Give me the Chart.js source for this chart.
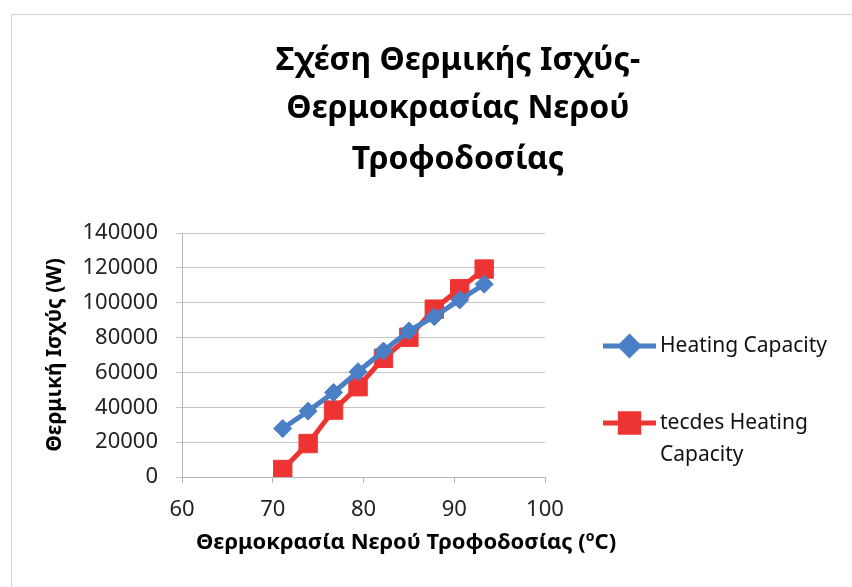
<!DOCTYPE html>
<html>
<head>
<meta charset="utf-8">
<script src="https://cdn.jsdelivr.net/npm/chart.js@4"></script>
<style>
  html, body { margin: 0; padding: 0; background: #ffffff; }
  #wrap { width: 852px; height: 587px; position: relative; }
</style>
</head>
<body>
<div id="wrap"><canvas id="c" width="852" height="587"></canvas></div>
<script>
// Feed-water temperature (°C) and heating capacity (W)
const temperatures = [71.1, 73.9, 76.7, 79.4, 82.2, 85.0, 87.8, 90.6, 93.3];
const heatingCapacity = [27800, 37800, 48500, 60400, 72300, 83800, 92000, 101600, 110600];
const tecdesHeatingCapacity = [4300, 19200, 38400, 51800, 68100, 80200, 96300, 108000, 119300];

const seriesNames = ['Heating Capacity', 'tecdes Heating Capacity'];
const titleLines = ['Σχέση Θερμικής Ισχύς-', 'Θερμοκρασίας Νερού', 'Τροφοδοσίας'];
const xTitleMain = 'Θερμοκρασία Νερού Τροφοδοσίας (';
const xTitleSup = 'o';
const xTitleEnd = 'C)';
const yTitle = 'Θερμική Ισχύς (W)';

const BLUE = '#4a7fc6';
const RED = '#ee3433';
const FONT = '"Noto Sans", "Open Sans", sans-serif';

const toPoints = (ys) => ys.map((y, i) => ({ x: temperatures[i], y }));

// Frame, title, x-axis title and legend drawn on the chart canvas
const decorations = {
  id: 'decorations',
  beforeDraw(chart) {
    const ctx = chart.ctx;
    ctx.save();
    ctx.fillStyle = '#ffffff';
    ctx.fillRect(0, 0, chart.width, chart.height);
    ctx.strokeStyle = '#d4d4d4';
    ctx.lineWidth = 1;
    ctx.strokeRect(11.5, 14.5, 850, 620);
    ctx.restore();
  },
  afterDraw(chart) {
    const ctx = chart.ctx;
    ctx.save();
    ctx.fillStyle = '#000000';
    ctx.textAlign = 'center';
    ctx.textBaseline = 'alphabetic';
    ctx.font = 'bold 32px ' + FONT;
    const baselines = [70, 118, 169];
    titleLines.forEach((t, i) => ctx.fillText(t, 458, baselines[i]));

    // x-axis title with superscript degree "o"
    const mainFont = 'bold 22px ' + FONT;
    const supFont = 'bold 14px ' + FONT;
    ctx.font = mainFont;
    const w1 = ctx.measureText(xTitleMain).width;
    const w3 = ctx.measureText(xTitleEnd).width;
    ctx.font = supFont;
    const w2 = ctx.measureText(xTitleSup).width;
    const total = w1 + w2 + w3;
    let x = 406 - total / 2;
    const by = 549;
    ctx.textAlign = 'left';
    ctx.font = mainFont;
    ctx.fillText(xTitleMain, x, by);
    x += w1;
    ctx.font = supFont;
    ctx.fillText(xTitleSup, x, by - 8);
    x += w2;
    ctx.font = mainFont;
    ctx.fillText(xTitleEnd, x, by);

    // legend
    ctx.font = '21px ' + FONT;
    ctx.textBaseline = 'middle';
    const maxTextW = 180;
    const entries = chart.data.datasets;
    const rowY = [346, 423];
    entries.forEach((ds, i) => {
      const y = rowY[i];
      ctx.strokeStyle = ds.borderColor;
      ctx.lineWidth = ds.borderWidth;
      ctx.beginPath();
      ctx.moveTo(603, y);
      ctx.lineTo(656, y);
      ctx.stroke();
      Chart.helpers.drawPoint(ctx, {
        pointStyle: ds.pointStyle,
        radius: ds.pointRadius,
        rotation: 0,
        borderWidth: ds.pointBorderWidth
      }, 629.5, y);
      ctx.fillStyle = ds.pointBackgroundColor;
      ctx.strokeStyle = ds.pointBorderColor;
      ctx.lineWidth = ds.pointBorderWidth;
      ctx.fill();
      ctx.stroke();
      // wrap legend text
      const words = ds.label.split(' ');
      const lines = [];
      let cur = '';
      words.forEach(w => {
        const test = cur ? cur + ' ' + w : w;
        if (ctx.measureText(test).width > maxTextW && cur) { lines.push(cur); cur = w; }
        else cur = test;
      });
      lines.push(cur);
      ctx.fillStyle = '#111111';
      lines.forEach((l, j) => ctx.fillText(l, 660, y + j * 32));
    });
    ctx.restore();
  }
};

new Chart(document.getElementById('c'), {
  type: 'line',
  data: {
    datasets: [
      {
        label: seriesNames[0],
        data: toPoints(heatingCapacity),
        borderColor: BLUE,
        backgroundColor: BLUE,
        borderWidth: 5,
        pointStyle: 'rectRot',
        pointRadius: 9,
        pointBorderWidth: 1,
        pointBackgroundColor: BLUE,
        pointBorderColor: BLUE,
        tension: 0
      },
      {
        label: seriesNames[1],
        data: toPoints(tecdesHeatingCapacity),
        borderColor: RED,
        backgroundColor: RED,
        borderWidth: 5,
        pointStyle: 'rect',
        pointRadius: 13,
        pointBorderWidth: 1,
        pointBackgroundColor: RED,
        pointBorderColor: RED,
        tension: 0
      }
    ]
  },
  options: {
    responsive: false,
    animation: false,
    devicePixelRatio: 1,
    layout: { padding: { left: 0, top: 233, right: 307, bottom: 0 } },
    plugins: {
      legend: { display: false },
      title: { display: false },
      tooltip: { enabled: false }
    },
    scales: {
      x: {
        type: 'linear',
        min: 60,
        max: 100,
        ticks: { stepSize: 10, color: '#222222', font: { family: FONT, size: 22 }, padding: 14 },
        grid: { display: true, drawOnChartArea: false, drawTicks: true, tickLength: 6, color: '#b5b5b5' },
        border: { color: '#b5b5b5' },
        afterFit(scale) { scale.height = 110; }
      },
      y: {
        min: 0,
        max: 140000,
        ticks: {
          stepSize: 20000,
          color: '#222222',
          font: { family: FONT, size: 22 },
          padding: 18,
          callback: (v) => String(v)
        },
        grid: { color: '#c4c4c4', tickLength: 6 },
        border: { color: '#b5b5b5' },
        title: {
          display: true,
          text: yTitle,
          color: '#000000',
          font: { family: FONT, size: 21, weight: 'bold' },
          padding: { top: 42, bottom: 0 }
        },
        afterFit(scale) { scale.width = 182; }
      }
    }
  },
  plugins: [decorations]
});
</script>
</body>
</html>
